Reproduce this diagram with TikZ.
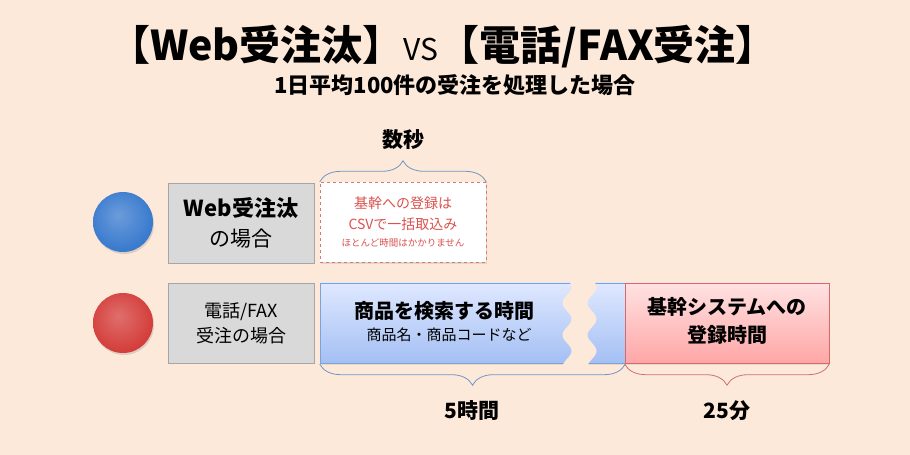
\documentclass[tikz,border=0pt]{standalone}
\usepackage{fontspec}
\setmainfont{Noto Sans CJK JP}
\usepackage{tikz}
\usetikzlibrary{positioning, decorations.pathreplacing, shadows}

\definecolor{bgpeach}{HTML}{FDE9D9}
\definecolor{boxgray}{HTML}{D9D9D9}
\definecolor{boxline}{HTML}{A6A6A6}
\definecolor{ballblue}{HTML}{3A7BCE}
\definecolor{ballred}{HTML}{D43F3C}
\definecolor{csvline}{HTML}{D27A78}
\definecolor{csvtext}{HTML}{D9534F}
\definecolor{barblue}{HTML}{7DA2D6}
\definecolor{bluetop}{HTML}{DFE8FF}
\definecolor{bluebot}{HTML}{A4C0F4}
\definecolor{barpink}{HTML}{D66A6A}
\definecolor{pinktop}{HTML}{FFE2E2}
\definecolor{pinkbot}{HTML}{FFA6A6}
\definecolor{braceblue}{HTML}{7096C8}
\definecolor{bracered}{HTML}{D07070}

\pgfdeclareradialshading{dotblue}{\pgfpoint{-4bp}{6bp}}{color(0bp)=(ballblue!75!white); color(26bp)=(ballblue); color(44bp)=(ballblue!90!black); color(54bp)=(ballblue!55!black)}
\pgfdeclareradialshading{dotred}{\pgfpoint{-4bp}{6bp}}{color(0bp)=(ballred!75!white); color(26bp)=(ballred); color(44bp)=(ballred!90!black); color(54bp)=(ballred!55!black)}

\begin{document}
\begin{tikzpicture}[x=1pt, y=1pt,
  graybox/.style={draw=boxline, fill=boxgray, minimum width=146pt, minimum height=80pt, inner sep=0pt, align=center},
  ball/.style={circle, minimum size=60pt, inner sep=0pt,
               drop shadow={shadow xshift=1pt, shadow yshift=-2pt, opacity=0.25}},
  timebar/.style={minimum height=80pt, inner sep=0pt,
                  drop shadow={shadow xshift=1pt, shadow yshift=-2pt, opacity=0.15}},
  timebrace/.style={decorate, decoration={brace, amplitude=21pt}, line width=0.8pt},
  timelabel/.style={font=\fontsize{21}{24}\selectfont\bfseries}]
\fill[bgpeach] (0,0) rectangle (910,455);
\useasboundingbox (0,0) rectangle (910,455);

\node[font=\fontsize{41}{46}\selectfont\bfseries] (title) at (443,408)
    {【Web受注汰】{\mdseries\fontsize{30}{32}\selectfont VS}【電話/FAX受注】};
\node[font=\fontsize{22}{24}\selectfont\bfseries] (sub) at (455,370) {1日平均100件の受注を処理した場合};

\begin{scope}[every node/.style={align=center}]
    \node[ball, shading=dotblue] (webdot) at (123,233) {};
    \node[ball, shading=dotred] (teldot) at (123,132) {};
    \node[graybox, font=\fontsize{21}{30}\selectfont] (webcase) at (241,232)
        {{\bfseries\fontsize{22}{30}\selectfont Web受注汰}\\の場合};
    \node[graybox, font=\fontsize{18}{25}\selectfont] (telcase) at (241,132) {電話/FAX\\受注の場合};
    \node[draw=csvline, dashed, fill=white, minimum width=166pt, minimum height=80pt, inner sep=0pt,
          text=csvtext, font=\fontsize{14}{21}\selectfont,
          drop shadow={shadow xshift=1pt, shadow yshift=-2pt, opacity=0.2}] (csv) at (403,233)
        {基幹への登録は\\CSVで一括取込み\\[-4pt]{\fontsize{9.5}{12}\selectfont ほとんど時間はかかりません}};
\end{scope}

\begin{scope}[every node/.style={align=center}]
    \node[timebar, draw=barblue, top color=bluetop, bottom color=bluebot, minimum width=305pt] (search) at (472.5,132) {};
    \node[timebar, draw=barpink, top color=pinktop, bottom color=pinkbot, minimum width=204pt] (entry) at (727,132) {};
    \fill[bgpeach] plot[domain=176:89, samples=60] ({567+4.5*sin(\x*11.25)}, \x)
        -- plot[domain=89:176, samples=60] ({592+4.5*sin(\x*11.25)}, \x) -- cycle;
    \node[font=\fontsize{20}{24}\selectfont\bfseries] (searchtxt) at (444,144) {商品を検索する時間};
    \node[font=\fontsize{15}{18}\selectfont] (searchsub) at (449,120) {商品名・商品コードなど};
    \node[font=\fontsize{20}{28}\selectfont\bfseries] (entrytxt) at (727,134) {基幹システムへの\\登録時間};
\end{scope}

\begin{scope}
    \draw[timebrace, braceblue] (csv.north west) -- (csv.north east);
    \draw[timebrace, braceblue] ([yshift=-1pt]search.south east) -- ([yshift=-1pt]search.south west);
    \draw[timebrace, bracered] ([yshift=-1pt]entry.south east) -- ([yshift=-1pt]entry.south west);
    \node[timelabel] (secs) at (403,315) {数秒};
    \node[timelabel] (hours) at (472,44) {5時間};
    \node[timelabel] (mins) at (727,44) {25分};
\end{scope}
\end{tikzpicture}
\end{document}
